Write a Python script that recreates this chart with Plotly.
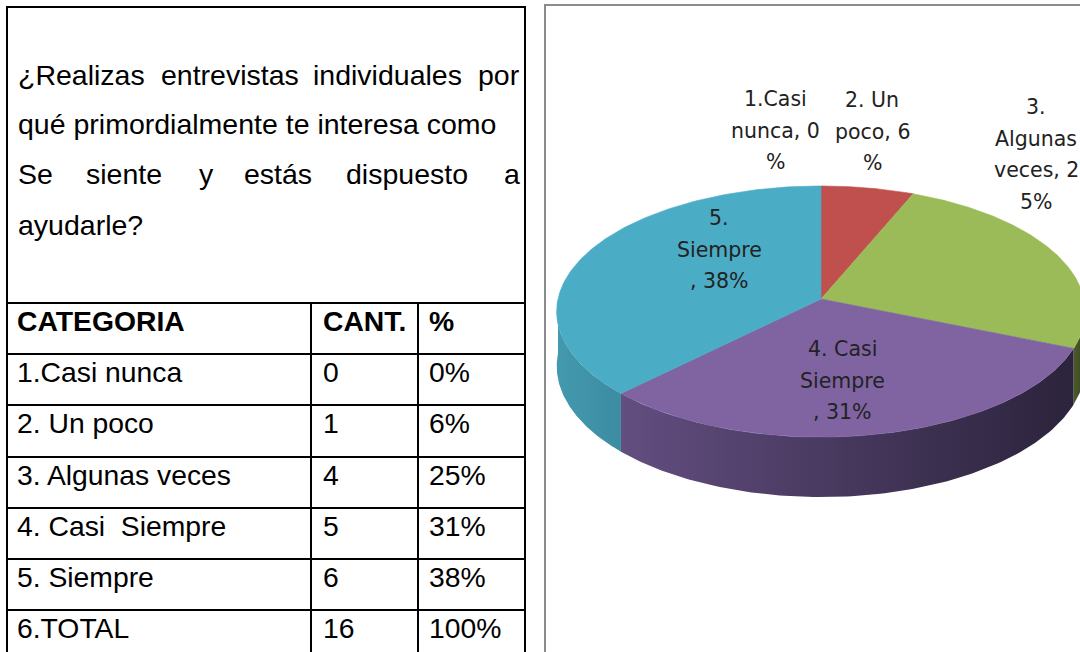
import numpy as np
import plotly.graph_objects as go

# ---------------- data ----------------
categories = ["1.Casi nunca", "2. Un poco", "3. Algunas veces", "4. Casi  Siempre", "5. Siempre"]
counts = [0, 1, 4, 5, 6]
total_label = "6.TOTAL"
header = ["CATEGORIA", "CANT.", "%"]
pie_labels = [
    "1.Casi\nnunca, 0\n%",
    "2. Un\npoco, 6\n%",
    "3.\nAlgunas\nveces, 2\n5%",
    "4. Casi\nSiempre\n, 31%",
    "5.\nSiempre\n, 38%",
]
question_lines = [
    ["¿Realizas", "entrevistas", "individuales", "por"],
    ["qué primordialmente te interesa como"],
    ["Se", "siente", "y", "estás", "dispuesto", "a"],
    ["ayudarle?"],
]
top_colors = ["#C0504D", "#C0504D", "#9BBB59", "#8064A2", "#4BACC6"]
side_scales = [
    [[0, "#7A2F2D"], [1, "#5E2322"]],
    [[0, "#7A2F2D"], [1, "#5E2322"]],
    [[0, "#4A5B27"], [1, "#3A4620"]],
    [[0, "#634E80"], [0.5, "#46385D"], [1, "#2C233C"]],
    [[0, "#4499AF"], [1, "#3C8CA2"]],
]

total = sum(counts)
pcts = [int(100 * c / total + 0.5) for c in counts]

fig = go.Figure()

# ---------------- pie (perspective projection of a disc) ----------------
cx, cy, R, S, a, D = 821, 299, 263, 124.3, 0.0996, 54


def proj(theta):
    t = np.radians(theta)
    u, v = np.sin(t), -np.cos(t)
    w = 1 - a * v
    return cx + R * u / w, cy + S * v / w, D / w


cum = np.concatenate([[0], np.cumsum(counts)]) / total * 360.0

# side walls (front half only)
for i in range(len(counts)):
    t1, t2 = cum[i], cum[i + 1]
    lo, hi = max(t1, 90), min(t2, 270)
    if counts[i] == 0 or hi <= lo:
        continue
    th = np.linspace(lo, hi, 120)
    x, y, d = proj(th)
    xs = np.concatenate([x, x[::-1], [x[0]]])
    ys = np.concatenate([y, (y + d)[::-1], [y[0]]])
    fig.add_trace(go.Scatter(
        x=xs, y=ys, mode="lines", fill="toself", line=dict(width=0),
        fillgradient=dict(type="horizontal", colorscale=side_scales[i]),
        hoverinfo="skip"))

# top faces
for i in range(len(counts)):
    t1, t2 = cum[i], cum[i + 1]
    if counts[i] == 0:
        continue
    th = np.linspace(t1, t2, 160)
    x, y, _ = proj(th)
    xs = np.concatenate([[cx], x, [cx]])
    ys = np.concatenate([[cy], y, [cy]])
    fig.add_trace(go.Scatter(
        x=xs, y=ys, mode="lines", fill="toself", fillcolor=top_colors[i],
        line=dict(width=0.6, color=top_colors[i]), hoverinfo="skip",
        name=categories[i]))

annotations = []

# pie data labels (line by line)
label_pos = [(775, 99), (872, 100), (1036, 107), (842, 349), (719, 218)]
for txt, (lx, ly) in zip(pie_labels, label_pos):
    for k, line in enumerate(txt.split("\n")):
        annotations.append(dict(
            x=lx, y=ly + k * 31.5, xref="x", yref="y", text=line,
            showarrow=False, xanchor="center", yanchor="middle",
            font=dict(family="DejaVu Sans", size=20.5, color="#222222")))

# ---------------- left box: question + table ----------------
word_x = [[16, 159, 311, 476], [16], [16, 84, 197, 242, 344, 502], [16]]
baselines = [85, 134, 184, 235]
for words, xs_, b in zip(question_lines, word_x, baselines):
    for wtxt, wx in zip(words, xs_):
        annotations.append(dict(
            x=wx, y=b - 10, xref="x", yref="y", text=wtxt, showarrow=False,
            xanchor="left", yanchor="middle",
            font=dict(family="Liberation Sans, Arial", size=28.5, color="#000000")))

row_tops = [303, 354, 405, 457, 508, 559, 610]
col_text_x = [15, 321, 427]
rows = [header] + [[c, str(n), f"{p}%"] for c, n, p in zip(categories, counts, pcts)] \
    + [[total_label, str(total), "100%"]]
for r, rt in zip(rows, row_tops):
    bold = r is header
    for txt, tx in zip(r, col_text_x):
        annotations.append(dict(
            x=tx, y=rt + 18, xref="x", yref="y",
            text=f"<b>{txt}</b>" if bold else txt.replace("  ", "&nbsp; "),
            showarrow=False, xanchor="left", yanchor="middle",
            font=dict(family="Liberation Sans, Arial", size=28.3, color="#000000")))

shapes = []
black = dict(color="#000000", width=2)
shapes.append(dict(type="rect", xref="x", yref="y", x0=7, y0=7, x1=525, y1=720, line=black))
for rt in row_tops:
    shapes.append(dict(type="line", xref="x", yref="y", x0=7, x1=525, y0=rt, y1=rt, line=black))
for vx in [311, 418]:
    shapes.append(dict(type="line", xref="x", yref="y", x0=vx, x1=vx, y0=row_tops[0], y1=720, line=black))
shapes.append(dict(type="rect", xref="x", yref="y", x0=545, y0=5, x1=1120, y1=720,
                   line=dict(color="#8C8C8C", width=2)))

fig.update_layout(
    width=1080, height=652, margin=dict(l=0, r=0, t=0, b=0),
    paper_bgcolor="white", plot_bgcolor="white", showlegend=False,
    xaxis=dict(range=[0, 1080], visible=False, fixedrange=True),
    yaxis=dict(range=[652, 0], visible=False, fixedrange=True),
    annotations=annotations, shapes=shapes,
)

# remove the default 8px page margin so figure pixels match page pixels
fig.write_html(
    "out.html",
    config={"displayModeBar": False},
    post_script="document.body.style.margin='0';document.body.style.overflow='hidden';",
)
